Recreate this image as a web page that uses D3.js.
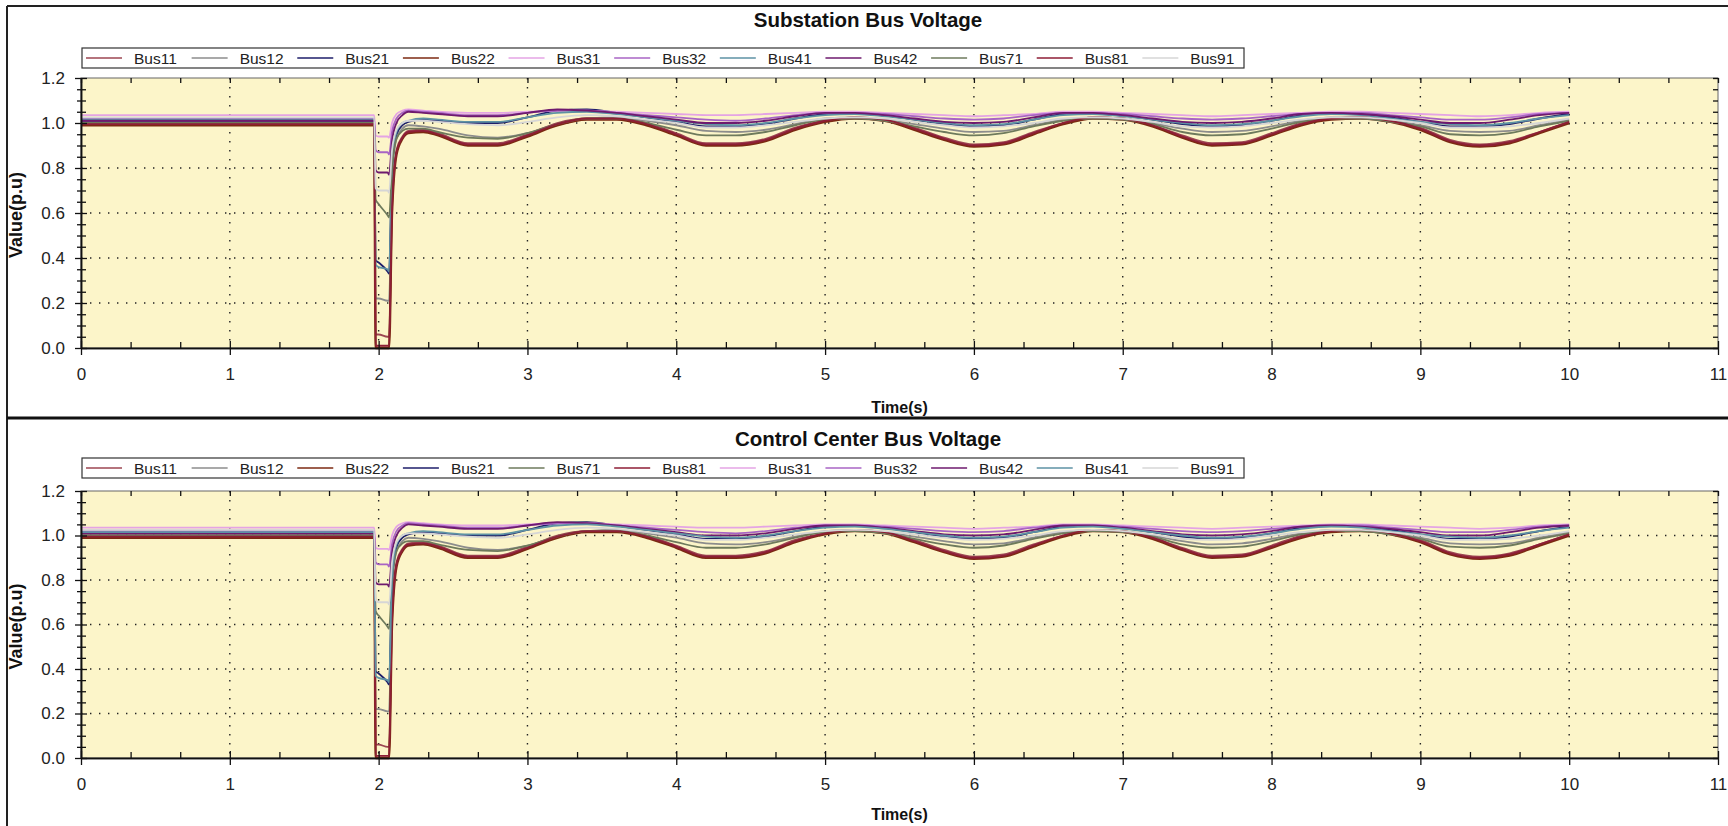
<!DOCTYPE html>
<html>
<head>
<meta charset="utf-8">
<script src="https://cdn.jsdelivr.net/npm/d3@7"></script>
<style>
body { margin: 0; background: #fff; }
svg text { font-family: "Liberation Sans", Arial, sans-serif; }
</style>
</head>
<body>
<svg id="chart" width="1728" height="826"></svg>
<script>
// sample times (s)
var time = [0, 1.97, 1.98, 2.0, 2.06, 2.07, 2.09, 2.12, 2.16, 2.2, 2.3,
    2.4, 2.6, 2.8, 3.0, 3.2, 3.4, 3.6, 3.8, 4.0, 4.2, 4.4, 4.6, 4.8, 5.0,
    5.2, 5.4, 5.6, 5.8, 6.0, 6.2, 6.4, 6.6, 6.8, 7.0, 7.2, 7.4, 7.6, 7.8, 8.0,
    8.2, 8.4, 8.6, 8.8, 9.0, 9.2, 9.4, 9.6, 9.8, 10.0];

// bus voltages (p.u), one value per sample time
var bus11 = [1.0, 1.0, 0.06, 0.06, 0.05, 0.05, 0.64, 0.88, 0.94, 0.965, 0.97, 0.955, 0.91, 0.91, 0.95, 1.0, 1.02, 1.02, 1.0, 0.955, 0.91, 0.91, 0.93, 0.98, 1.01, 1.025, 1.015, 0.98, 0.935, 0.905, 0.915, 0.96, 1.0, 1.025, 1.02, 0.99, 0.945, 0.91, 0.915, 0.955, 1.0, 1.02, 1.025, 1.01, 0.98, 0.925, 0.905, 0.92, 0.96, 1.005];
var bus12 = [1.02, 1.02, 0.22, 0.22, 0.21, 0.21, 0.75, 0.93, 0.975, 0.99, 0.985, 0.975, 0.945, 0.935, 0.955, 0.99, 1.02, 1.025, 1.01, 0.99, 0.965, 0.96, 0.97, 0.995, 1.02, 1.025, 1.015, 0.995, 0.975, 0.96, 0.965, 0.99, 1.015, 1.025, 1.02, 1.0, 0.975, 0.96, 0.965, 0.985, 1.01, 1.025, 1.025, 1.01, 0.99, 0.965, 0.96, 0.965, 0.99, 1.015];
var bus21 = [1.01, 1.01, 0.39, 0.38, 0.34, 0.33, 0.8, 0.95, 0.99, 1.005, 1.015, 1.01, 1.0, 1.0, 1.025, 1.055, 1.06, 1.045, 1.025, 1.005, 0.985, 0.985, 0.995, 1.02, 1.04, 1.045, 1.035, 1.015, 0.995, 0.985, 0.99, 1.015, 1.04, 1.045, 1.035, 1.015, 0.995, 0.985, 0.99, 1.01, 1.035, 1.045, 1.04, 1.025, 1.005, 0.985, 0.985, 0.995, 1.02, 1.04];
var bus22 = [0.99, 0.99, 0.0, 0.0, 0.0, 0.0, 0.6, 0.86, 0.93, 0.955, 0.96, 0.945, 0.9, 0.9, 0.94, 0.99, 1.015, 1.015, 0.99, 0.945, 0.9, 0.9, 0.92, 0.97, 1.005, 1.02, 1.01, 0.97, 0.925, 0.895, 0.905, 0.95, 0.995, 1.02, 1.015, 0.985, 0.935, 0.9, 0.905, 0.945, 0.99, 1.015, 1.02, 1.005, 0.97, 0.915, 0.895, 0.91, 0.955, 1.0];
var bus31 = [1.035, 1.035, 0.945, 0.94, 0.94, 0.935, 1.0, 1.04, 1.055, 1.06, 1.055, 1.05, 1.045, 1.045, 1.05, 1.055, 1.055, 1.05, 1.045, 1.04, 1.035, 1.035, 1.04, 1.045, 1.05, 1.05, 1.045, 1.04, 1.035, 1.03, 1.035, 1.04, 1.05, 1.05, 1.045, 1.04, 1.035, 1.03, 1.035, 1.04, 1.045, 1.05, 1.05, 1.045, 1.04, 1.035, 1.03, 1.035, 1.045, 1.05];
var bus32 = [1.02, 1.02, 0.88, 0.87, 0.87, 0.86, 0.96, 1.02, 1.045, 1.055, 1.05, 1.045, 1.035, 1.035, 1.045, 1.055, 1.055, 1.045, 1.035, 1.025, 1.015, 1.01, 1.02, 1.035, 1.045, 1.045, 1.04, 1.03, 1.02, 1.015, 1.02, 1.035, 1.045, 1.045, 1.04, 1.03, 1.02, 1.015, 1.02, 1.03, 1.04, 1.045, 1.045, 1.035, 1.025, 1.015, 1.015, 1.025, 1.04, 1.045];
var bus41 = [1.015, 1.015, 0.37, 0.36, 0.35, 0.34, 0.82, 0.96, 1.0, 1.01, 1.02, 1.015, 1.005, 1.005, 1.025, 1.045, 1.05, 1.04, 1.025, 1.01, 0.995, 0.99, 1.0, 1.02, 1.035, 1.04, 1.03, 1.015, 1.0, 0.99, 0.995, 1.015, 1.035, 1.04, 1.03, 1.015, 1.0, 0.99, 0.995, 1.01, 1.03, 1.04, 1.035, 1.02, 1.005, 0.995, 0.99, 1.0, 1.02, 1.035];
var bus42 = [1.01, 1.01, 0.79, 0.78, 0.78, 0.77, 0.92, 1.0, 1.035, 1.05, 1.045, 1.04, 1.03, 1.03, 1.045, 1.06, 1.055, 1.045, 1.03, 1.015, 1.0, 1.0, 1.01, 1.03, 1.045, 1.045, 1.035, 1.02, 1.005, 1.0, 1.005, 1.025, 1.045, 1.045, 1.035, 1.02, 1.005, 1.0, 1.005, 1.02, 1.04, 1.045, 1.04, 1.03, 1.015, 1.0, 1.0, 1.015, 1.035, 1.045];
var bus71 = [1.0, 1.0, 0.66, 0.64, 0.59, 0.58, 0.8, 0.93, 0.965, 0.975, 0.975, 0.96, 0.935, 0.93, 0.955, 0.995, 1.02, 1.02, 1.0, 0.97, 0.945, 0.945, 0.96, 0.99, 1.015, 1.02, 1.01, 0.985, 0.96, 0.945, 0.955, 0.985, 1.01, 1.02, 1.015, 0.995, 0.96, 0.945, 0.95, 0.975, 1.005, 1.02, 1.02, 1.005, 0.985, 0.95, 0.945, 0.955, 0.985, 1.01];
var bus81 = [0.995, 0.995, 0.01, 0.01, 0.01, 0.01, 0.62, 0.87, 0.935, 0.96, 0.965, 0.95, 0.905, 0.905, 0.945, 0.995, 1.02, 1.02, 0.995, 0.95, 0.905, 0.905, 0.925, 0.975, 1.01, 1.025, 1.015, 0.975, 0.93, 0.9, 0.91, 0.955, 1.0, 1.025, 1.02, 0.99, 0.94, 0.905, 0.91, 0.95, 0.995, 1.02, 1.025, 1.01, 0.975, 0.92, 0.9, 0.915, 0.96, 1.005];
var bus91 = [1.025, 1.025, 0.71, 0.7, 0.7, 0.69, 0.88, 0.97, 1.0, 1.01, 1.01, 1.005, 0.995, 0.99, 1.005, 1.025, 1.035, 1.03, 1.015, 1.0, 0.98, 0.98, 0.99, 1.005, 1.02, 1.025, 1.02, 1.005, 0.99, 0.98, 0.985, 1.0, 1.02, 1.025, 1.02, 1.005, 0.985, 0.98, 0.985, 1.0, 1.015, 1.025, 1.025, 1.015, 1.0, 0.98, 0.98, 0.985, 1.0, 1.02];

// legend orders of the two panels
var substationOrder = ["Bus11", "Bus12", "Bus21", "Bus22", "Bus31", "Bus32", "Bus41", "Bus42", "Bus71", "Bus81", "Bus91"];
var controlOrder = ["Bus11", "Bus12", "Bus22", "Bus21", "Bus71", "Bus81", "Bus31", "Bus32", "Bus42", "Bus41", "Bus91"];

// tick values
var xTicks = [0, 1, 2, 3, 4, 5, 6, 7, 8, 9, 10, 11];
var yTicks = [0.0, 0.2, 0.4, 0.6, 0.8, 1.0, 1.2];

var busValues = {
    Bus11: bus11, Bus12: bus12, Bus21: bus21, Bus22: bus22, Bus31: bus31, Bus32: bus32,
    Bus41: bus41, Bus42: bus42, Bus71: bus71, Bus81: bus81, Bus91: bus91
};

var busColor = {
    Bus11: "#9c4652", Bus12: "#8c8c8c", Bus21: "#1e1e6a", Bus22: "#7c2a12", Bus31: "#e4a4e4",
    Bus32: "#a864c4", Bus41: "#5e92a4", Bus42: "#6e1a6e", Bus71: "#6e7a5c", Bus81: "#8e1e36",
    Bus91: "#d6d6d6"
};

var svg = d3.select("#chart");
var font = "'Liberation Sans', Arial, sans-serif";

var x = d3.scaleLinear().domain([0, 11]).range([81, 1718]);
var xMinor = d3.range(0, 11.001, 1 / 3).filter(function(d) {
    return Math.abs(d - Math.round(d)) > 0.01;
});
var yMinor = d3.range(0, 1.2001, 0.05).filter(function(d) {
    return Math.abs(d * 5 - Math.round(d * 5)) > 0.01;
});

var style_axis = function(sel, size) {
    sel.attr("font-family", font).attr("font-size", size);
    sel.select(".domain").attr("stroke", "#111").attr("stroke-width", 1.5);
    sel.selectAll(".tick line").attr("stroke", "#111").attr("stroke-width", 1.3);
    sel.selectAll(".tick text").attr("fill", "#222");
};

var draw_panel = function(layout, title, order) {
    var g = svg.append("g");
    var y = d3.scaleLinear().domain([0, 1.2]).range([layout.plotBottom, layout.plotTop]);
    var x0 = x.range()[0], x1 = x.range()[1];
    var y0 = layout.plotTop, y1 = layout.plotBottom;

    g.append("text")
        .attr("x", 868).attr("y", layout.titleY)
        .attr("text-anchor", "middle")
        .attr("font-weight", "bold").attr("font-size", 20.5)
        .attr("fill", "#111")
        .text(title);

    // plot background
    g.append("rect")
        .attr("x", x0).attr("y", y0)
        .attr("width", x1 - x0).attr("height", y1 - y0)
        .attr("fill", "#fcf5c9")
        .attr("stroke", "#666").attr("stroke-width", 1);

    // dotted grid
    g.append("g").selectAll("line")
        .data(xTicks.filter(function(d) { return d > 0 && d < 11; }))
        .enter().append("line")
        .attr("x1", function(d) { return x(d); }).attr("x2", function(d) { return x(d); })
        .attr("y1", y0).attr("y2", y1)
        .attr("stroke", "#222").attr("stroke-width", 1.4)
        .attr("stroke-dasharray", "1.4,7.6");
    g.append("g").selectAll("line")
        .data(yTicks.filter(function(d) { return d > 0 && d < 1.2; }))
        .enter().append("line")
        .attr("x1", x0).attr("x2", x1)
        .attr("y1", function(d) { return y(d); }).attr("y2", function(d) { return y(d); })
        .attr("stroke", "#222").attr("stroke-width", 1.4)
        .attr("stroke-dasharray", "1.4,7.6");

    // series
    var line = d3.line()
        .x(function(d, i) { return x(time[i]); })
        .y(function(d) { return y(d); })
        .curve(d3.curveMonotoneX);

    g.append("g").selectAll("path")
        .data(order)
        .enter().append("path")
        .attr("d", function(name) { return line(busValues[name]); })
        .attr("fill", "none")
        .attr("stroke", function(name) { return busColor[name]; })
        .attr("stroke-width", function(name) { return name === "Bus22" ? 2.4 : 1.8; });

    // top and right inner ticks
    var topAxis = g.append("g").attr("transform", "translate(0," + y0 + ")")
        .call(d3.axisTop(x).tickValues(xTicks.concat(xMinor)).tickSize(-5).tickSizeOuter(0).tickFormat(""));
    style_axis(topAxis, 10);
    topAxis.select(".domain").remove();
    var rightAxis = g.append("g").attr("transform", "translate(" + x1 + ",0)")
        .call(d3.axisRight(y).tickValues(yTicks.concat(yMinor)).tickSize(-5).tickSizeOuter(0).tickFormat(""));
    style_axis(rightAxis, 10);
    rightAxis.select(".domain").remove();

    // left axis
    var leftMinor = g.append("g").attr("transform", "translate(" + x0 + ",0)")
        .call(d3.axisLeft(y).tickValues(yMinor).tickSize(4).tickSizeOuter(0).tickFormat(""));
    style_axis(leftMinor, 10);
    leftMinor.selectAll(".tick line").attr("x1", 5);
    var leftAxis = g.append("g").attr("transform", "translate(" + x0 + ",0)")
        .call(d3.axisLeft(y).tickValues(yTicks).tickSize(6).tickSizeOuter(0).tickPadding(10)
            .tickFormat(d3.format(".1f")));
    style_axis(leftAxis, 17);
    leftAxis.selectAll(".tick line").attr("x1", 6);

    // bottom axis
    var bottomMinor = g.append("g").attr("transform", "translate(0," + y1 + ")")
        .call(d3.axisBottom(x).tickValues(xMinor).tickSize(-6).tickSizeOuter(0).tickFormat(""));
    style_axis(bottomMinor, 10);
    var bottomAxis = g.append("g").attr("transform", "translate(0," + y1 + ")")
        .call(d3.axisBottom(x).tickValues(xTicks).tickSize(7).tickSizeOuter(0).tickPadding(13)
            .tickFormat(d3.format("d")));
    style_axis(bottomAxis, 17);
    bottomAxis.selectAll(".tick line").attr("y1", -7);

    // axis titles
    g.append("text")
        .attr("transform", "translate(22," + ((y0 + y1) / 2 + 2) + ") rotate(-90)")
        .attr("text-anchor", "middle")
        .attr("font-weight", "bold").attr("font-size", 18)
        .attr("fill", "#111")
        .text("Value(p.u)");
    g.append("text")
        .attr("x", (x0 + x1) / 2).attr("y", layout.timeY)
        .attr("text-anchor", "middle")
        .attr("font-weight", "bold").attr("font-size", 16)
        .attr("fill", "#111")
        .text("Time(s)");

    // legend
    var legendW = 1162, itemW = legendW / order.length;
    g.append("rect")
        .attr("x", 82).attr("y", layout.legendY)
        .attr("width", legendW).attr("height", 20)
        .attr("fill", "#fff")
        .attr("stroke", "#333").attr("stroke-width", 1.2);
    var item = g.append("g").selectAll("g")
        .data(order)
        .enter().append("g")
        .attr("transform", function(d, i) {
            return "translate(" + (82 + i * itemW) + "," + layout.legendY + ")";
        });
    item.append("line")
        .attr("x1", 4).attr("x2", 40)
        .attr("y1", 10).attr("y2", 10)
        .attr("stroke", function(name) { return busColor[name]; })
        .attr("stroke-width", 1.6);
    item.append("text")
        .attr("x", 52).attr("y", 15.5)
        .attr("font-size", 15.5)
        .attr("fill", "#222")
        .text(function(name) { return name; });
};

draw_panel({ titleY: 27, legendY: 48, plotTop: 78, plotBottom: 348, timeY: 413 },
    "Substation Bus Voltage", substationOrder);
draw_panel({ titleY: 446, legendY: 458, plotTop: 491, plotBottom: 758, timeY: 820 },
    "Control Center Bus Voltage", controlOrder);

// outer frame and divider
svg.append("line").attr("x1", 7).attr("x2", 1728).attr("y1", 6).attr("y2", 6)
    .attr("stroke", "#222").attr("stroke-width", 2);
svg.append("line").attr("x1", 7).attr("x2", 7).attr("y1", 6).attr("y2", 826)
    .attr("stroke", "#222").attr("stroke-width", 2);
svg.append("line").attr("x1", 7).attr("x2", 1728).attr("y1", 418).attr("y2", 418)
    .attr("stroke", "#111").attr("stroke-width", 3);
</script>
</body>
</html>
